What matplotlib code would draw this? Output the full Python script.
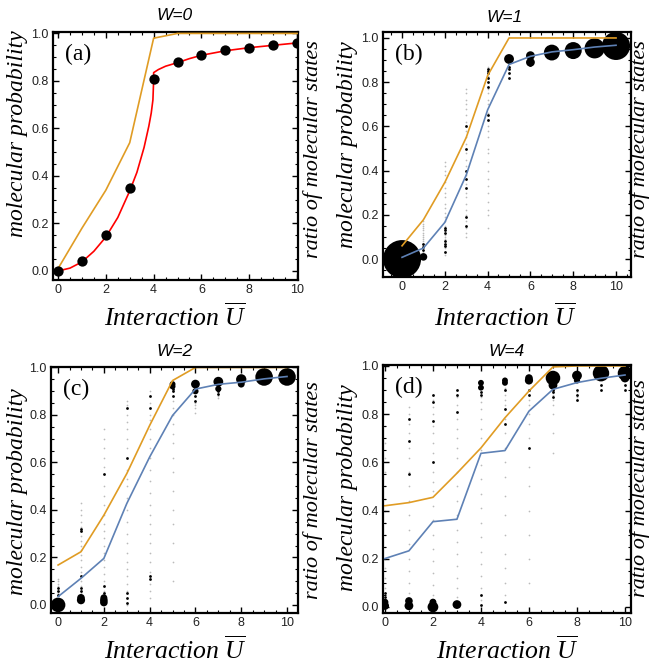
import matplotlib
matplotlib.use("Agg")
import matplotlib.pyplot as plt
from matplotlib.ticker import MultipleLocator
import numpy as np

plt.rcParams['mathtext.fontset'] = 'custom'
plt.rcParams['mathtext.rm'] = 'Liberation Serif'
plt.rcParams['mathtext.it'] = 'Liberation Serif:italic'

U = [0, 1, 2, 3, 4, 5, 6, 7, 8, 9, 10]

# ---------- panel (a): W=0 ----------
a_orange = [0.01, 0.18, 0.34, 0.54, 0.98, 1.0, 1.0, 1.0, 1.0, 1.0, 1.0]
a_dots = [0.0, 0.04, 0.15, 0.35, 0.81, 0.88, 0.91, 0.93, 0.94, 0.95, 0.96]
a_red_x = [0, 0.5, 1, 1.5, 2, 2.5, 3, 3.3, 3.6, 3.8, 3.9, 3.97, 4.0, 4.0, 4.2, 4.5, 5, 5.5, 6, 7, 8, 9, 10]
a_red_y = [0.0, 0.012, 0.038, 0.083, 0.143, 0.225, 0.337, 0.415, 0.52, 0.61, 0.665, 0.72, 0.8, 0.835, 0.848, 0.862, 0.877, 0.894, 0.908, 0.927, 0.94, 0.95, 0.96]

# ---------- panel (b): W=1 ----------
b_orange = [0.06, 0.178, 0.347, 0.55, 0.83, 1.0, 1.0, 1.0, 1.0, 1.0, 1.0]
b_blue = [0.008, 0.05, 0.166, 0.38, 0.675, 0.88, 0.917, 0.937, 0.947, 0.959, 0.967]
b_big_x = [0, 1, 5, 6, 6, 7, 8, 9, 10]
b_big_y = [0.0, 0.01, 0.905, 0.92, 0.89, 0.934, 0.943, 0.953, 0.964]
b_big_n = [750, 30, 50, 40, 40, 130, 150, 210, 410]
b_dark_x = [1, 1, 1, 2, 2, 2, 2, 2, 2, 2, 3, 3, 3, 3, 3, 3, 3, 4, 4, 4, 4, 4, 4, 4, 4, 5, 5, 5, 5, 6]
b_dark_y = [0.04, 0.055, 0.07, 0.03, 0.06, 0.07, 0.08, 0.12, 0.13, 0.14, 0.15, 0.19, 0.32, 0.36, 0.40, 0.50, 0.60,
            0.63, 0.65, 0.78, 0.80, 0.82, 0.84, 0.85, 0.86, 0.82, 0.84, 0.86, 0.87, 0.88]
b_faint_x = [1]*12 + [2]*19 + [3]*24 + [4]*22
b_faint_y = [0.03, 0.06, 0.08, 0.09, 0.10, 0.11, 0.12, 0.13, 0.14, 0.15, 0.16, 0.17,
             0.02, 0.05, 0.09, 0.10, 0.11, 0.15, 0.17, 0.19, 0.21, 0.23, 0.25, 0.28, 0.30, 0.32, 0.35, 0.38, 0.40, 0.42, 0.44,
             0.10, 0.12, 0.14, 0.17, 0.20, 0.22, 0.25, 0.28, 0.30, 0.34, 0.38, 0.42, 0.45, 0.48, 0.52, 0.55, 0.58, 0.62, 0.65, 0.68, 0.70, 0.72, 0.75, 0.77,
             0.14, 0.20, 0.22, 0.26, 0.30, 0.33, 0.36, 0.40, 0.44, 0.48, 0.50, 0.55, 0.58, 0.60, 0.66, 0.70, 0.72, 0.75, 0.77, 0.80, 0.83, 0.87]

# ---------- panel (c): W=2 ----------
c_orange = [0.168, 0.224, 0.378, 0.553, 0.756, 0.945, 1.0, 1.0, 1.0, 1.0, 1.0]
c_blue = [0.035, 0.112, 0.196, 0.427, 0.623, 0.798, 0.909, 0.929, 0.938, 0.952, 0.962]
c_big_x = [0, 1, 1, 2, 2, 2, 5, 5, 6, 6, 7, 7, 8, 8, 9, 10]
c_big_y = [0.0, 0.02, 0.03, 0.01, 0.02, 0.03, 0.92, 0.93, 0.93, 0.90, 0.94, 0.91, 0.95, 0.93, 0.96, 0.96]
c_big_n = [110, 35, 30, 30, 30, 25, 18, 18, 40, 20, 50, 20, 55, 25, 160, 160]
c_dark_x = [0, 0, 0, 1, 1, 1, 1, 1, 2, 2, 2, 3, 3, 3, 3, 3, 4, 4, 4, 4, 5, 5, 5, 6, 6, 7, 7]
c_dark_y = [0.04, 0.06, 0.07, 0.06, 0.07, 0.12, 0.31, 0.32, 0.05, 0.08, 0.55, 0.01, 0.03, 0.05, 0.62, 0.83,
            0.11, 0.12, 0.83, 0.88, 0.88, 0.90, 0.91, 0.86, 0.88, 0.89, 0.90]
c_faint_x = [0]*8 + [1]*16 + [2]*20 + [3]*22 + [4]*22 + [5]*14 + [6]*4 + [7]*3
c_faint_y = [0.02, 0.04, 0.05, 0.06, 0.08, 0.09, 0.10, 0.11,
             0.05, 0.08, 0.10, 0.14, 0.16, 0.19, 0.21, 0.23, 0.25, 0.27, 0.29, 0.33, 0.35, 0.38, 0.40, 0.43,
             0.04, 0.06, 0.10, 0.13, 0.16, 0.19, 0.22, 0.25, 0.28, 0.31, 0.34, 0.38, 0.42, 0.46, 0.50, 0.58, 0.62, 0.66, 0.70, 0.74,
             0.00, 0.06, 0.09, 0.12, 0.15, 0.18, 0.22, 0.26, 0.30, 0.35, 0.40, 0.45, 0.50, 0.53, 0.57, 0.66, 0.70, 0.74, 0.77, 0.80, 0.84, 0.86,
             0.03, 0.06, 0.09, 0.14, 0.18, 0.22, 0.26, 0.30, 0.34, 0.38, 0.42, 0.47, 0.52, 0.57, 0.62, 0.66, 0.70, 0.74, 0.78, 0.80, 0.85, 0.90,
             0.10, 0.18, 0.26, 0.34, 0.40, 0.48, 0.56, 0.62, 0.68, 0.72, 0.76, 0.80, 0.83, 0.86,
             0.81, 0.83, 0.84, 0.85,
             0.87, 0.88, 0.89]

# ---------- panel (d): W=4 ----------
d_orange = [0.42, 0.433, 0.455, 0.555, 0.66, 0.785, 0.896, 0.996, 1.0, 1.0, 1.0]
d_blue = [0.201, 0.233, 0.354, 0.364, 0.6375, 0.649, 0.8125, 0.903, 0.931, 0.949, 0.9625]
d_big_x = [0, 0, 1, 1, 2, 2, 3, 4, 4, 5, 5, 6, 6, 7, 7, 8, 8, 9, 10, 10]
d_big_y = [0.005, 0.02, 0.005, 0.025, 0.0, 0.02, 0.01, 0.91, 0.93, 0.93, 0.94, 0.94, 0.95, 0.95, 0.92, 0.96, 0.94, 0.97, 0.97, 0.95]
d_big_n = [35, 25, 40, 30, 60, 25, 40, 18, 18, 18, 18, 35, 30, 110, 40, 50, 20, 140, 110, 40]
d_dark_x = [0, 0, 1, 1, 1, 2, 2, 2, 2, 2, 3, 3, 3, 4, 4, 4, 4, 5, 5, 5, 5, 6, 6, 6, 7, 7, 7, 8, 8, 8, 9, 9, 10, 10]
d_dark_y = [0.04, 0.06, 0.55, 0.69, 0.78, 0.03, 0.60, 0.77, 0.85, 0.88, 0.81, 0.88, 0.90, 0.01, 0.05, 0.88, 0.89,
            0.02, 0.76, 0.82, 0.90, 0.66, 0.88, 0.90, 0.87, 0.89, 0.90, 0.86, 0.88, 0.90, 0.90, 0.92, 0.90, 0.92]
d_faint_x = [0]*14 + [1]*16 + [2]*18 + [3]*18 + [4]*18 + [5]*16 + [6]*12 + [7]*6 + [8]*4
d_faint_y = [0.08, 0.12, 0.16, 0.20, 0.25, 0.30, 0.35, 0.40, 0.45, 0.50, 0.56, 0.62, 0.68, 0.75,
             0.06, 0.10, 0.15, 0.20, 0.26, 0.32, 0.38, 0.44, 0.50, 0.56, 0.62, 0.66, 0.72, 0.76, 0.80, 0.83,
             0.05, 0.09, 0.14, 0.19, 0.24, 0.30, 0.36, 0.42, 0.48, 0.52, 0.56, 0.64, 0.68, 0.72, 0.75, 0.80, 0.83, 0.86,
             0.04, 0.08, 0.12, 0.17, 0.22, 0.27, 0.32, 0.38, 0.44, 0.50, 0.56, 0.62, 0.66, 0.70, 0.74, 0.78, 0.84, 0.87,
             0.03, 0.08, 0.13, 0.18, 0.23, 0.29, 0.35, 0.41, 0.47, 0.53, 0.59, 0.65, 0.70, 0.74, 0.78, 0.82, 0.85, 0.87,
             0.05, 0.10, 0.16, 0.22, 0.30, 0.38, 0.46, 0.54, 0.60, 0.66, 0.72, 0.78, 0.84, 0.86, 0.88, 0.91,
             0.10, 0.20, 0.30, 0.40, 0.50, 0.58, 0.70, 0.76, 0.80, 0.84, 0.86, 0.88,
             0.64, 0.72, 0.80, 0.84, 0.86, 0.88,
             0.86, 0.87, 0.88, 0.89]

titles = ["W=0", "W=1", "W=2", "W=4"]
labels = ["(a)", "(b)", "(c)", "(d)"]

ORANGE = "#E09C24"
BLUE = "#5E81B5"
RED = "#FF0000"

W, H = 649, 667
fig = plt.figure(figsize=(W / 100, H / 100), dpi=100)

# axes boxes in pixels: left, right, top, bottom
boxes = [(53, 298, 32, 280), (383, 631, 32, 277), (51, 298, 367, 613), (383, 631, 365, 613)]
xlims = [(-0.21, 10.04), (-0.89, 10.70), (-0.31, 10.48), (-0.08, 10.25)]
ylims = [(-0.038, 1.006), (-0.081, 1.027), (-0.034, 1.002), (-0.025, 1.004)]

serif_it = dict(family="Liberation Serif", style="italic")


def make_ax(i):
    l, r, t, b = boxes[i]
    ax = fig.add_axes([l / W, 1 - b / H, (r - l) / W, (b - t) / H])
    ax.set_xlim(*xlims[i])
    ax.set_ylim(*ylims[i])
    ax.xaxis.set_major_locator(MultipleLocator(2))
    ax.xaxis.set_minor_locator(MultipleLocator(0.5))
    ax.yaxis.set_major_locator(MultipleLocator(0.2))
    ax.yaxis.set_minor_locator(MultipleLocator(0.05))
    ax.xaxis.set_major_formatter(plt.FuncFormatter(lambda v, p: f"{int(round(v))}"))
    ax.yaxis.set_major_formatter(plt.FuncFormatter(lambda v, p: f"{v:.1f}"))
    ax.tick_params(which="both", direction="in", top=True, right=True, color="black")
    ax.tick_params(which="major", length=4, width=1.0, labelsize=9, labelcolor="#222222", pad=3)
    ax.tick_params(which="minor", length=2.5, width=0.8)
    for lab in ax.get_xticklabels() + ax.get_yticklabels():
        lab.set_family("Liberation Sans")
    for s in ax.spines.values():
        s.set_linewidth(1.6)
    return ax


def panel_text(ax, i, cx, ylab_x, ylab_y, xlab_y, title_y, rlab_x, rlab_y):
    fig.text(cx / W, 1 - title_y / H, titles[i], ha="center", va="center",
             fontsize=12.5, family="Liberation Sans", style="italic")
    fig.text(ylab_x / W, 1 - ylab_y / H, "molecular probability", rotation=90,
             ha="center", va="center", fontsize=17, **serif_it)
    fig.text(rlab_x / W, 1 - rlab_y / H, "ratio of molecular states", rotation=90,
             ha="center", va="center", fontsize=16, **serif_it)
    fig.text(cx / W, 1 - xlab_y / H, r"Interaction $\overline{U}$", ha="center", va="center",
             fontsize=18.5, **serif_it)
    ax.text(0.05, 0.91, labels[i], transform=ax.transAxes, ha="left", va="center",
            fontsize=17, family="Liberation Serif")


# (a)
ax = make_ax(0)
ax.plot(U, a_orange, color=ORANGE, lw=1.2, zorder=3)
ax.plot(a_red_x, a_red_y, color=RED, lw=1.2, zorder=3)
ax.scatter(U, a_dots, s=55, color="black", zorder=4, linewidths=0)
panel_text(ax, 0, 175, 18, 134, 317, 15, 313, 149)

# (b)
ax = make_ax(1)
ax.scatter(b_faint_x, b_faint_y, s=1.5, color="#bbbbbb", linewidths=0, zorder=1)
ax.scatter(b_dark_x, b_dark_y, s=4, color="black", linewidths=0, zorder=1)
ax.scatter(b_big_x, b_big_y, s=b_big_n, color="black", linewidths=0, zorder=1)
ax.plot(U, b_orange, color=ORANGE, lw=1.2, zorder=3)
ax.plot(U, b_blue, color=BLUE, lw=1.2, zorder=3)
panel_text(ax, 1, 505, 348, 145, 317, 17, 640, 149)

# (c)
ax = make_ax(2)
ax.scatter(c_faint_x, c_faint_y, s=1.5, color="#bbbbbb", linewidths=0, zorder=1)
ax.scatter(c_dark_x, c_dark_y, s=4, color="black", linewidths=0, zorder=1)
ax.scatter(c_big_x, c_big_y, s=c_big_n, color="black", linewidths=0, zorder=1)
ax.plot(U, c_orange, color=ORANGE, lw=1.2, zorder=2)
ax.plot(U, c_blue, color=BLUE, lw=1.2, zorder=3)
panel_text(ax, 2, 175, 18, 492, 650, 352, 313, 490)

# (d)
ax = make_ax(3)
ax.scatter(d_faint_x, d_faint_y, s=1.5, color="#bbbbbb", linewidths=0, zorder=1)
ax.scatter(d_dark_x, d_dark_y, s=4, color="black", linewidths=0, zorder=1)
ax.scatter(d_big_x, d_big_y, s=d_big_n, color="black", linewidths=0, zorder=1)
ax.plot(U, d_orange, color=ORANGE, lw=1.2, zorder=2)
ax.plot(U, d_blue, color=BLUE, lw=1.2, zorder=3)
panel_text(ax, 3, 507, 348, 488, 650, 352, 640, 488)

fig.savefig("out.png", dpi=100)
